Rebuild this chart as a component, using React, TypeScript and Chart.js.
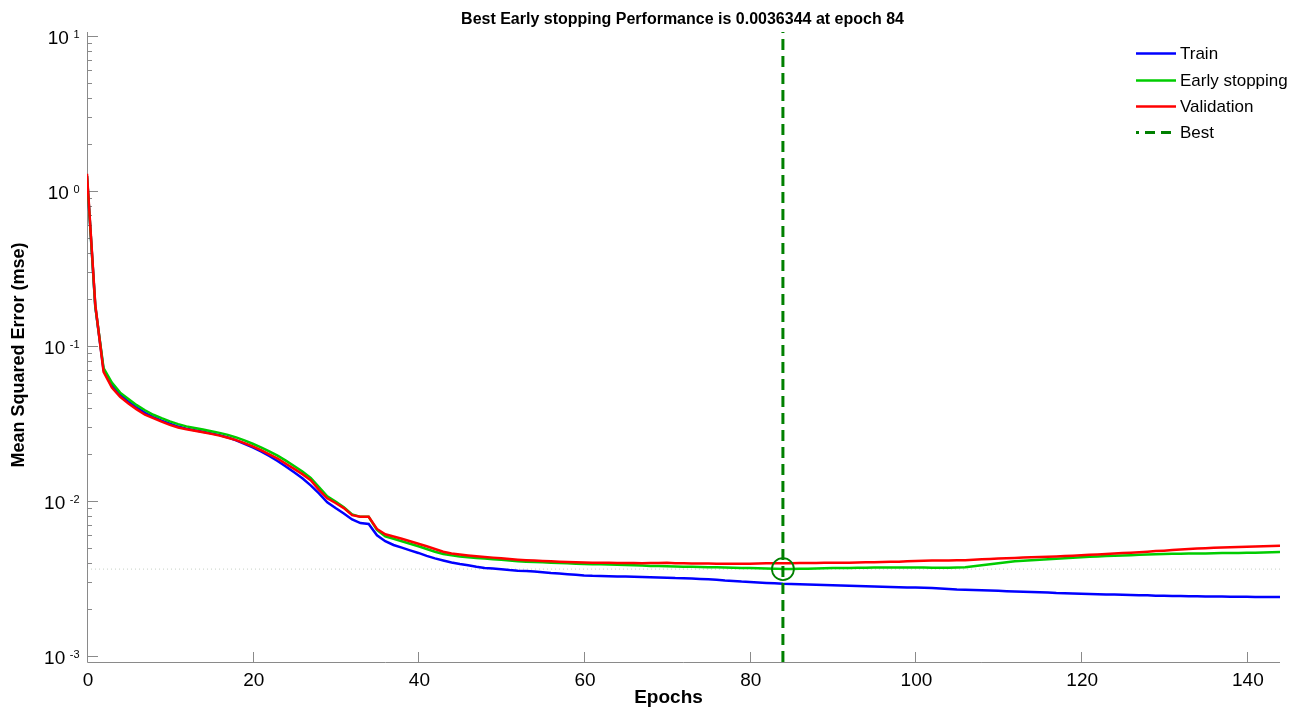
import React, { useEffect, useRef } from "react";
import { Chart, registerables } from "chart.js";

Chart.register(...registerables);

const EPOCHS: number[] = Array.from({ length: 145 }, (_, i) => i);

const TRAIN = [
  1.25, 0.18, 0.070, 0.056, 0.0485, 0.0437, 0.0400, 0.0370, 0.0348, 0.0330,
  0.0315, 0.0302, 0.0293, 0.0286, 0.0280, 0.0273, 0.0266, 0.0257, 0.0246, 0.0234,
  0.0222, 0.0209, 0.0195, 0.0181, 0.0167, 0.0153, 0.0140, 0.0126, 0.0112, 0.0098,
  0.0090, 0.0083, 0.0076, 0.0072, 0.0071, 0.0060, 0.0055, 0.0052, 0.0050, 0.0048,
  0.00462, 0.00442, 0.00426, 0.00413, 0.00401, 0.00392, 0.00385, 0.00376, 0.00370, 0.00367,
  0.00363, 0.00358, 0.00355, 0.00353, 0.00351, 0.00347, 0.00343, 0.00340, 0.00337, 0.00334,
  0.00331, 0.00329, 0.00328, 0.00327, 0.00326, 0.00325, 0.00324, 0.00323, 0.00322, 0.00321,
  0.00320, 0.00318, 0.00317, 0.00316, 0.00314, 0.00312, 0.00310, 0.00307, 0.00305, 0.00302,
  0.00300, 0.00298, 0.00296, 0.00294, 0.00292, 0.00291, 0.00290, 0.00289, 0.00288, 0.00287,
  0.00286, 0.00285, 0.00284, 0.00283, 0.00282, 0.00281, 0.00280, 0.00279, 0.00278, 0.00277,
  0.00276, 0.00275, 0.00274, 0.00272, 0.00270, 0.00268, 0.00267, 0.00266, 0.00265, 0.00264,
  0.00263, 0.00262, 0.00261, 0.00260, 0.00259, 0.00258, 0.00257, 0.00255, 0.00254, 0.00253,
  0.00252, 0.00251, 0.00250, 0.00249, 0.00249, 0.00248, 0.00247, 0.00246, 0.00246, 0.00245,
  0.00245, 0.00244, 0.00244, 0.00243, 0.00243, 0.00242, 0.00242, 0.00242, 0.00241, 0.00241,
  0.00241, 0.00240, 0.00240, 0.00240, 0.00240,
];

const EARLY = [
  1.25, 0.18, 0.072, 0.058, 0.050, 0.0455, 0.0415, 0.0385, 0.0360, 0.0342,
  0.0326, 0.0313, 0.0303, 0.0296, 0.0289, 0.0282, 0.0275, 0.0267, 0.0257, 0.0246,
  0.0234, 0.0222, 0.0209, 0.0196, 0.0182, 0.0168, 0.0155, 0.0141, 0.0123, 0.0107,
  0.0099, 0.0091, 0.0082, 0.0079, 0.0079, 0.0065, 0.0059, 0.0057, 0.0055, 0.0053,
  0.0051, 0.0049, 0.0047, 0.00455, 0.00446, 0.00439, 0.00434, 0.00429, 0.00425, 0.00421,
  0.00417, 0.00413, 0.00409, 0.00406, 0.00404, 0.00402, 0.00400, 0.00398, 0.00396, 0.00394,
  0.00392, 0.00391, 0.00390, 0.00389, 0.00388, 0.00386, 0.00385, 0.00383, 0.00381, 0.00380,
  0.00379, 0.00378, 0.00377, 0.00376, 0.00375, 0.00374, 0.00373, 0.00372, 0.00371, 0.00370,
  0.00369, 0.00368, 0.00367, 0.00366, 0.0036344, 0.00364, 0.00365, 0.00366, 0.00367, 0.00368,
  0.00369, 0.00370, 0.00370, 0.00371, 0.00371, 0.00372, 0.00372, 0.00372, 0.00372, 0.00372,
  0.00372, 0.00372, 0.00371, 0.00371, 0.00371, 0.00372, 0.00374, 0.00379, 0.00385, 0.00391,
  0.00397, 0.00403, 0.00408, 0.00412, 0.00415, 0.00418, 0.00421, 0.00424, 0.00427, 0.00430,
  0.00433, 0.00436, 0.00439, 0.00441, 0.00443, 0.00445, 0.00447, 0.00449, 0.00451, 0.00453,
  0.00455, 0.00456, 0.00457, 0.00458, 0.00458, 0.00459, 0.00460, 0.00461, 0.00462, 0.00462,
  0.00463, 0.00464, 0.00465, 0.00467, 0.00469,
];

const VALID = [
  1.29, 0.185, 0.068, 0.054, 0.047, 0.0425, 0.039, 0.036, 0.0342, 0.0325,
  0.031, 0.0298, 0.0290, 0.0284, 0.0278, 0.0271, 0.0264, 0.0256, 0.0247, 0.0236,
  0.0225, 0.0213, 0.0200, 0.0188, 0.0174, 0.0161, 0.0149, 0.0136, 0.0118, 0.0104,
  0.0097, 0.0090, 0.0081, 0.0079, 0.0079, 0.0066, 0.0061, 0.0059, 0.0057, 0.0055,
  0.0053, 0.0051, 0.0049, 0.0047, 0.00458, 0.00451, 0.00445, 0.00440, 0.00435, 0.00431,
  0.00427, 0.00422, 0.00418, 0.00415, 0.00413, 0.00410, 0.00408, 0.00406, 0.00404, 0.00403,
  0.00401, 0.00400, 0.00399, 0.00399, 0.00398, 0.00398, 0.00398, 0.00397, 0.00398, 0.00398,
  0.00399, 0.00397, 0.00396, 0.00395, 0.00395, 0.00395, 0.00394, 0.00394, 0.00394, 0.00394,
  0.00394, 0.00395, 0.00396, 0.00396, 0.00397, 0.00397, 0.00398, 0.00398, 0.00398, 0.00399,
  0.00399, 0.00400, 0.00400, 0.00401, 0.00402, 0.00403, 0.00404, 0.00405, 0.00406, 0.00408,
  0.00410, 0.00412, 0.00413, 0.00413, 0.00413, 0.00414, 0.00415, 0.00417, 0.00420, 0.00423,
  0.00425, 0.00427, 0.00429, 0.00431, 0.00433, 0.00435, 0.00437, 0.00439, 0.00441, 0.00443,
  0.00446, 0.00449, 0.00452, 0.00455, 0.00458, 0.00461, 0.00464, 0.00467, 0.00471, 0.00475,
  0.00478, 0.00482, 0.00486, 0.00490, 0.00493, 0.00496, 0.00499, 0.00501, 0.00503, 0.00505,
  0.00507, 0.00509, 0.00511, 0.00513, 0.00515,
];

const BEST_EPOCH = 84;
const BEST_PERF = 0.0036344;
const X_MIN = 0;
const X_MAX = 144;
const Y_MIN = Math.pow(10, -3.039);
const Y_MAX = Math.pow(10, 1.026);
const X_TICKS = [0, 20, 40, 60, 80, 100, 120, 140];
const Y_DECADES = [-3, -2, -1, 0, 1];
const TITLE = "Best Early stopping Performance is 0.0036344 at epoch 84";
const X_LABEL = "Epochs";
const Y_LABEL = "Mean Squared Error (mse)";
const LEGEND_LABELS = ["Train", "Early stopping", "Validation", "Best"];

const FONT = "'Liberation Sans', Arial, Helvetica, sans-serif";
const AXIS_COLOR = "#8a8a8a";
const C_TRAIN = "#0000ff";
const C_EARLY = "#00cc00";
const C_VALID = "#ff0000";
const C_BEST = "#008000";

const decorPlugin = {
  id: "decor",
  beforeDatasetsDraw(chart: any) {
    const { ctx, chartArea: ca, scales } = chart;
    const xs = scales.x;
    const ys = scales.y;
    ctx.save();
    ctx.strokeStyle = AXIS_COLOR;
    ctx.lineWidth = 1;
    ctx.beginPath();
    ctx.moveTo(ca.left + 0.5, ca.top);
    ctx.lineTo(ca.left + 0.5, ca.bottom + 0.5);
    ctx.lineTo(ca.right, ca.bottom + 0.5);
    ctx.stroke();
    ctx.beginPath();
    for (const t of X_TICKS) {
      const px = Math.round(xs.getPixelForValue(t)) + 0.5;
      ctx.moveTo(px, ca.bottom);
      ctx.lineTo(px, ca.bottom - 10);
    }
    for (const d of Y_DECADES) {
      for (let k = 1; k <= 9; k++) {
        const v = k * Math.pow(10, d);
        if (v < Y_MIN || v > Y_MAX) continue;
        const py = Math.round(ys.getPixelForValue(v)) + 0.5;
        ctx.moveTo(ca.left, py);
        ctx.lineTo(ca.left + (k === 1 ? 11 : 5), py);
      }
    }
    ctx.stroke();
    ctx.restore();
  },
  afterDraw(chart: any) {
    const { ctx, scales } = chart;
    const xs = scales.x;
    const ys = scales.y;
    ctx.save();
    ctx.fillStyle = "#000";
    ctx.font = `19px ${FONT}`;
    ctx.textAlign = "center";
    ctx.textBaseline = "alphabetic";
    for (const t of X_TICKS) {
      const px = xs.getPixelForValue(t);
      ctx.fillText(String(t), px + 1, 686);
    }
    for (const d of Y_DECADES) {
      const py = ys.getPixelForValue(Math.pow(10, d));
      const exp = String(d);
      ctx.font = `11px ${FONT}`;
      const ew = ctx.measureText(exp).width;
      ctx.textAlign = "left";
      const expLeft = 79.5 - ew;
      ctx.fillText(exp, expLeft, py + 1.8);
      ctx.font = `19px ${FONT}`;
      ctx.textAlign = "right";
      ctx.fillText("10", expLeft - 4.5, py + 8.3);
    }
    ctx.font = `bold 16px ${FONT}`;
    ctx.textAlign = "center";
    ctx.fillText(TITLE, 682.5, 23.5);
    ctx.font = `bold 19px ${FONT}`;
    ctx.fillText(X_LABEL, 668.5, 703);
    ctx.save();
    ctx.translate(19, 355);
    ctx.rotate(-Math.PI / 2);
    ctx.font = `bold 18px ${FONT}`;
    ctx.textBaseline = "middle";
    ctx.fillText(Y_LABEL, 0, 0);
    ctx.restore();
    const rows = [53, 80, 106, 132];
    const colors = [C_TRAIN, C_EARLY, C_VALID, C_BEST];
    for (let i = 0; i < 4; i++) {
      const y = rows[i];
      ctx.beginPath();
      ctx.strokeStyle = colors[i];
      if (i === 3) {
        ctx.lineWidth = 3;
        ctx.setLineDash([10, 6]);
        ctx.lineDashOffset = 7;
      } else {
        ctx.lineWidth = 2.5;
        ctx.setLineDash([]);
      }
      ctx.moveTo(1136, y + 0.5);
      ctx.lineTo(1176, y + 0.5);
      ctx.stroke();
      ctx.setLineDash([]);
      ctx.font = `17px ${FONT}`;
      ctx.textAlign = "left";
      ctx.textBaseline = "middle";
      ctx.fillStyle = "#000";
      ctx.fillText(LEGEND_LABELS[i], 1180, y + 1);
    }
    ctx.restore();
  },
};

export default function App() {
  const canvasRef = useRef<HTMLCanvasElement | null>(null);

  useEffect(() => {
    const canvas = canvasRef.current;
    if (!canvas) return;
    const pts = (arr: number[]) => EPOCHS.map((e, i) => ({ x: e, y: arr[i] }));
    const chart = new Chart(canvas, {
      type: "line",
      data: {
        datasets: [
          {
            label: "Best",
            data: [
              { x: BEST_EPOCH, y: Y_MIN },
              { x: BEST_EPOCH, y: Y_MAX },
            ],
            borderColor: C_BEST,
            borderWidth: 3,
            borderDash: [11, 6],
            pointRadius: 0,
            order: 0,
          },
          {
            label: "BestPoint",
            data: [{ x: BEST_EPOCH, y: BEST_PERF }],
            borderColor: C_BEST,
            backgroundColor: "rgba(0,0,0,0)",
            pointRadius: 11,
            pointBorderWidth: 1.8,
            pointBorderColor: C_BEST,
            pointBackgroundColor: "rgba(0,0,0,0)",
            showLine: false,
            order: 0,
          },
          {
            label: "Validation",
            data: pts(VALID),
            borderColor: C_VALID,
            borderWidth: 2.5,
            pointRadius: 0,
            order: 1,
          },
          {
            label: "Early stopping",
            data: pts(EARLY),
            borderColor: C_EARLY,
            borderWidth: 2.5,
            pointRadius: 0,
            order: 2,
          },
          {
            label: "Train",
            data: pts(TRAIN),
            borderColor: C_TRAIN,
            borderWidth: 2.5,
            pointRadius: 0,
            order: 3,
          },
          {
            label: "BestLevel",
            data: [
              { x: X_MIN, y: BEST_PERF },
              { x: X_MAX, y: BEST_PERF },
            ],
            borderColor: "rgba(150,170,150,0.55)",
            borderWidth: 1,
            borderDash: [1, 3],
            pointRadius: 0,
            order: 4,
          },
        ],
      },
      options: {
        responsive: false,
        animation: false,
        devicePixelRatio: 1,
        layout: { padding: { left: 87, right: 21, top: 32, bottom: 49 } },
        plugins: {
          legend: { display: false },
          title: { display: false },
          tooltip: { enabled: false },
        },
        elements: { line: { tension: 0 } },
        scales: {
          x: {
            type: "linear",
            min: X_MIN,
            max: X_MAX,
            grid: { display: false },
            border: { display: false },
            ticks: { display: false },
            afterFit: (s: any) => {
              s.height = 0;
            },
          },
          y: {
            type: "logarithmic",
            min: Y_MIN,
            max: Y_MAX,
            grid: { display: false },
            border: { display: false },
            ticks: { display: false },
            afterFit: (s: any) => {
              s.width = 0;
            },
          },
        },
      },
      plugins: [decorPlugin],
    } as any);
    return () => chart.destroy();
  }, []);

  return (
    <div style={{ position: "fixed", left: 0, top: 0, width: 1301, height: 711, background: "#fff" }}>
      <canvas ref={canvasRef} width={1301} height={711} style={{ display: "block" }} />
    </div>
  );
}
